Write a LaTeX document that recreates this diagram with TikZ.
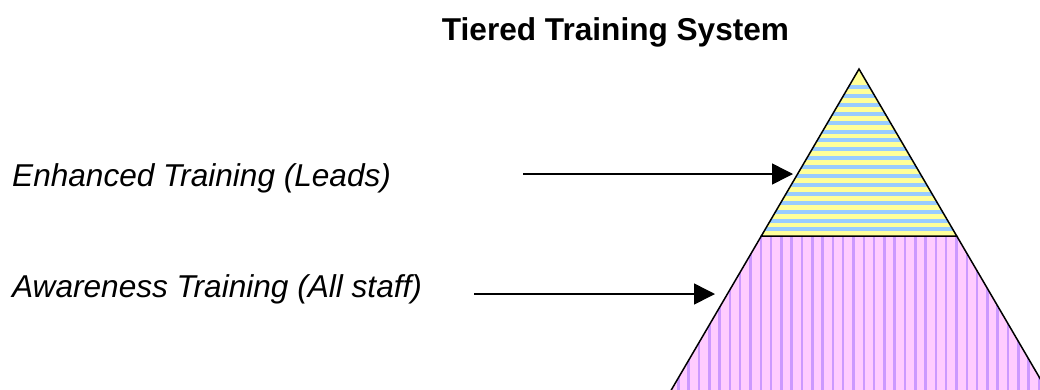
\documentclass[tikz,border=0pt]{standalone}
\usepackage{fontspec}
\setmainfont{Liberation Sans}
\usetikzlibrary{arrows.meta}
\definecolor{tyellow}{HTML}{FFFF99}
\definecolor{tblue}{HTML}{99CCFF}
\definecolor{tpink}{HTML}{FFCCFF}
\definecolor{tpurple}{HTML}{CC99FF}
\begin{document}
\begin{tikzpicture}[x=1pt,y=-1pt,
  lbl/.style={font=\fontsize{31.6}{36}\selectfont\itshape, anchor=base west, inner sep=0pt},
  ttl/.style={font=\fontsize{31.6}{36}\selectfont\bfseries, anchor=base, inner sep=0pt},
  arr/.style={line width=1.5pt, -{Triangle[length=21pt,width=21pt]}},
  outline/.style={line width=1.5pt, line join=miter}]
\useasboundingbox (0,0) rectangle (1040,389);
\clip (0,0) rectangle (1040,389);
\fill[white] (0,0) rectangle (1040,389);
% geometry
\coordinate (A) at (859,69);
\coordinate (BL) at (761.3,236);
\coordinate (BR) at (956.7,236);
\coordinate (CL) at (653.7,420);
\coordinate (CR) at (1064.3,420);
% top tier
\begin{scope}
  \clip (A) -- (BL) -- (BR) -- cycle;
  \fill[tyellow] (740,60) rectangle (980,240);
  \foreach \i in {0,...,20} {
    \fill[tblue] (740,{85+8.9*\i}) rectangle (980,{89+8.9*\i});
  }
\end{scope}
% bottom tier
\begin{scope}
  \clip (BL) -- (BR) -- (CR) -- (CL) -- cycle;
  \fill[tpink] (640,230) rectangle (1080,430);
  \foreach \i in {0,...,42} {
    \fill[tpurple] ({656.5+10.3*\i},230) rectangle ({659+10.3*\i},430);
  }
\end{scope}
\draw[outline] (A) -- (BL) -- (BR) -- cycle;
\draw[outline] (BL) -- (CL);
\draw[outline] (BR) -- (CR);
% texts
\node[ttl] (title) at (615.5,40) {Tiered Training System};
\node[lbl] (l1) at (12,186) {Enhanced Training (Leads)};
\node[lbl] (l2) at (12,297) {Awareness Training (All staff)};
% arrows
\coordinate (s1) at (523,174);
\coordinate (t1) at (793,174);
\coordinate (s2) at (474,294);
\coordinate (t2) at (715,294);
\draw[arr] (s1) -- (t1);
\draw[arr] (s2) -- (t2);
\end{tikzpicture}
\end{document}
